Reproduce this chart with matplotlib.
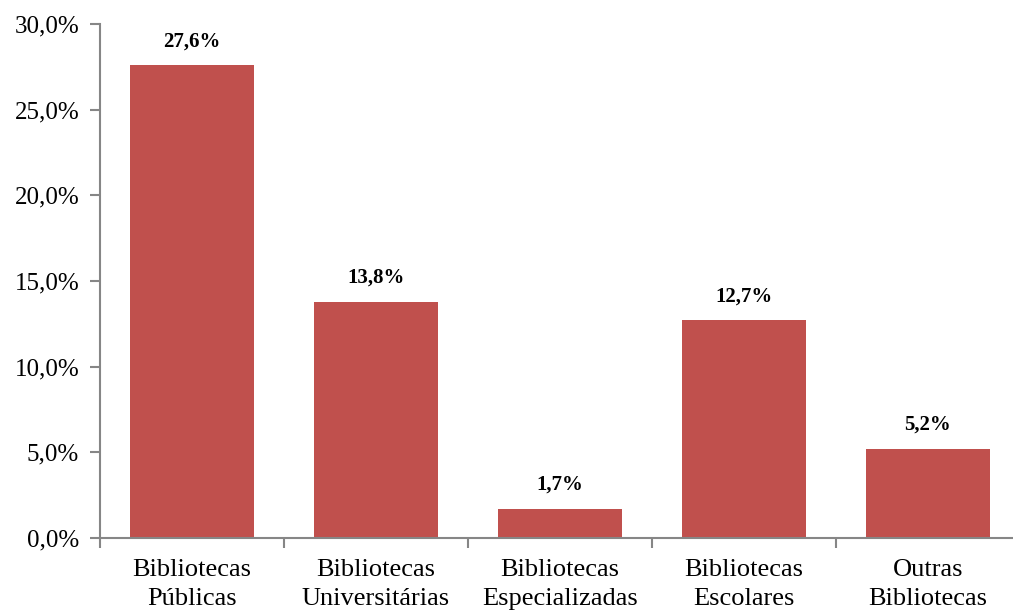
import numpy as np
import matplotlib.pyplot as plt

# percentuais por tipo de biblioteca
categorias = ['Bibliotecas\nPúblicas', 'Bibliotecas\nUniversitárias', 'Bibliotecas\nEspecializadas',
              'Bibliotecas\nEscolares', 'Outras\nBibliotecas']
valores = [27.6, 13.8, 1.7, 12.7, 5.2]
rotulos = ['27,6%', '13,8%', '1,7%', '12,7%', '5,2%']
yticks = [0, 5, 10, 15, 20, 25, 30]
ytick_txt = ['0,0%', '5,0%', '10,0%', '15,0%', '20,0%', '25,0%', '30,0%']

plt.rcParams['font.family'] = ['Liberation Serif', 'DejaVu Serif']

fig = plt.figure(figsize=(10.13, 6.10), dpi=100)
ax = fig.add_axes([0.0987, 0.118, 0.9013, 0.8427])

x = np.arange(len(valores))
ax.bar(x, valores, width=0.675, color='#C0504D')

for xi, v, t in zip(x, valores, rotulos):
    ax.annotate(t, (xi, v), xytext=(0, 10), textcoords='offset points',
                ha='center', va='bottom', fontsize=15, fontweight='bold')

ax.set_ylim(0, 30)
ax.set_xlim(-0.5, 4.462)
ax.set_yticks(yticks)
ax.set_yticklabels(ytick_txt, fontsize=18)

# categorias sem marca de tick; marcas entre as barras
ax.set_xticks(x)
ax.set_xticklabels(categorias, fontsize=19, linespacing=1.4)
ax.tick_params(axis='x', length=0, pad=15)
ax.set_xticks(np.arange(-0.5, 4.5, 1), minor=True)
ax.tick_params(axis='x', which='minor', length=7, width=1.5, color='#868686', direction='out')
ax.tick_params(axis='y', length=7, width=1.5, color='#868686', direction='out', pad=8)

for s in ['top', 'right']:
    ax.spines[s].set_visible(False)
for s in ['left', 'bottom']:
    ax.spines[s].set_color('#868686')
    ax.spines[s].set_linewidth(1.5)

fig.savefig('out.png', dpi=100)
